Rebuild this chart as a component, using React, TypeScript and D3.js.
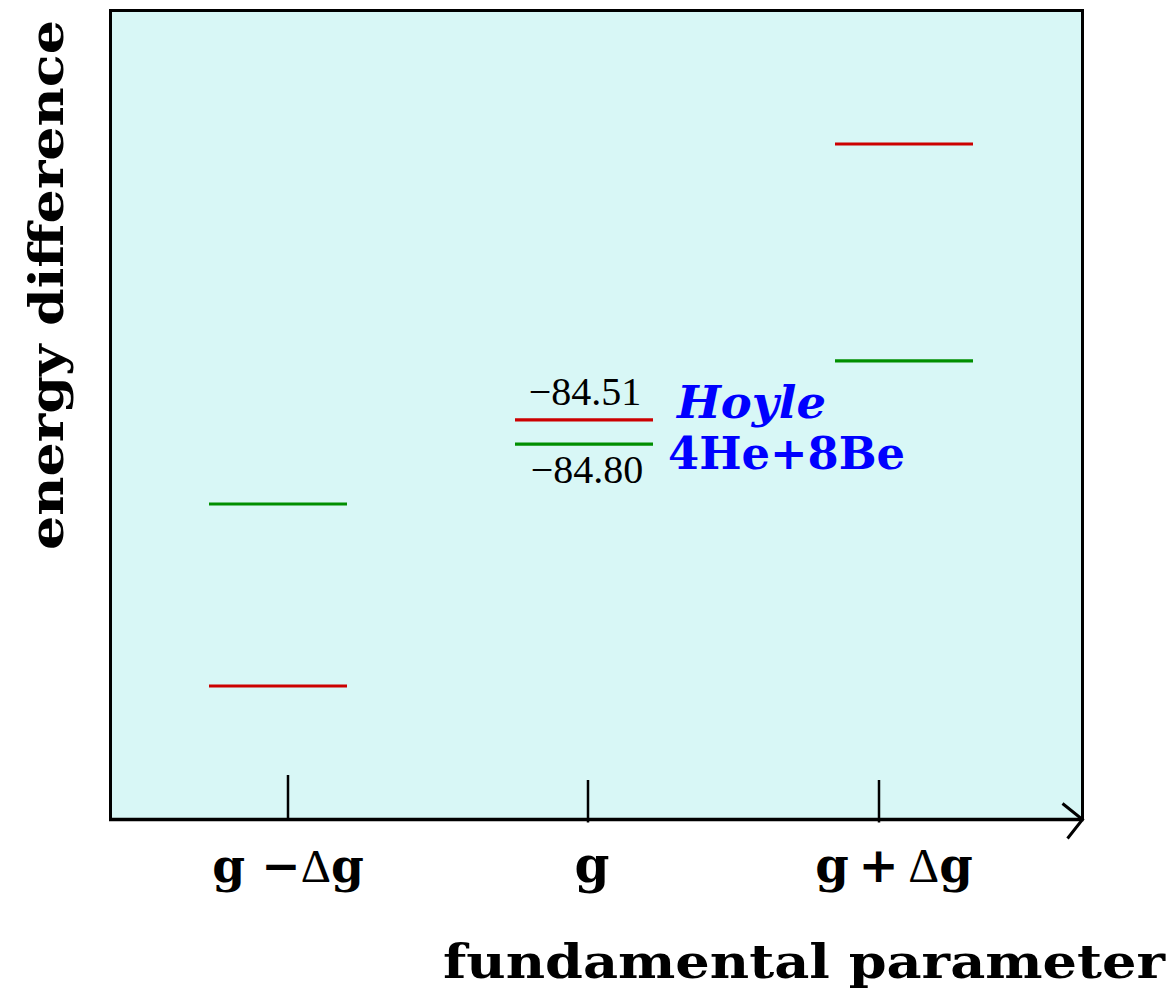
import React from "react";
import * as d3 from "d3";

// ---- data ----
const categories = ["g-dg", "g", "g+dg"];
const tickLabels = [
  [{ t: "g ", b: true }, { t: "\u2212", b: true }, { t: "\u0394", b: false }, { t: "g", b: true }],
  [{ t: "g", b: true }],
  [{ t: "g\u2009", b: true }, { t: "+\u2009", b: true }, { t: "\u0394", b: false }, { t: "g", b: true }],
];
// energy levels in arbitrary units (schematic)
const hoyleLevels = [16.5, 49.4, 83.5];
const beLevels = [39.0, 46.4, 56.7];
const midValueLabels = ["\u221284.51", "\u221284.80"];
const seriesNames = ["Hoyle", "4He+8Be"];
const xTitle = "fundamental parameter";
const yTitle = "energy difference";

const W = 1173;
const H = 1000;
const frame = { left: 110.5, top: 10.5, right: 1082.5, bottom: 819.5 };
const BG = "#d8f7f6";
const RED = "#cc0000";
const GREEN = "#008f00";
const BLUE = "#0000ff";
const SERIF_BOLD = "'DejaVu Serif', 'Liberation Serif', serif";
const TIMES = "'Liberation Serif', 'Times New Roman', serif";

export default function App() {
  const y = d3.scaleLinear().domain([0, 100]).range([frame.bottom, frame.top]);
  const xTick = d3.scaleOrdinal<string, number>().domain(categories).range([288, 588, 879]);
  const xLevel = d3.scaleOrdinal<string, number>().domain(categories).range([278, 584, 904]);
  const half = 69;
  const labelShift = [0, 4, 15];
  const labelSize = [47, 50, 48];

  const levelRows = categories.flatMap((c, i) => [
    { c, v: hoyleLevels[i], color: RED },
    { c, v: beLevels[i], color: GREEN },
  ]);

  const midX = xLevel("g");
  return (
    <svg
      width={W}
      height={H}
      style={{ position: "absolute", left: 0, top: 0, background: "#fff" }}
    >
      <rect
        x={frame.left}
        y={frame.top}
        width={frame.right - frame.left}
        height={frame.bottom - frame.top}
        fill={BG}
        stroke="none"
      />
      {/* frame: left, top, right */}
      <path
        d={`M${frame.left},${frame.bottom} L${frame.left},${frame.top} L${frame.right},${frame.top} L${frame.right},${frame.bottom}`}
        fill="none"
        stroke="#000"
        strokeWidth={3}
      />
      {/* bottom axis with arrow */}
      <line x1={frame.left - 1.5} y1={frame.bottom} x2={frame.right + 1} y2={frame.bottom} stroke="#000" strokeWidth={3.5} />
      <path
        d={`M${frame.right - 20},${frame.bottom - 16} L${frame.right},${frame.bottom} L${frame.right - 15},${frame.bottom + 19}`}
        fill="none"
        stroke="#000"
        strokeWidth={3}
      />
      {/* ticks */}
      {categories.map((c, i) => (
        <line
          key={c}
          x1={xTick(c)}
          x2={xTick(c)}
          y1={frame.bottom + (i === 0 ? 0 : 3)}
          y2={i === 0 ? 775 : 780}
          stroke="#000"
          strokeWidth={2.5}
        />
      ))}
      {/* tick labels */}
      {categories.map((c, i) => (
        <text
          key={c}
          x={xTick(c) + labelShift[i]}
          y={882}
          textAnchor="middle"
          fontFamily={SERIF_BOLD}
          fontSize={labelSize[i]}
          fill="#000"
        >
          {tickLabels[i].map((p, j) => (
            <tspan key={j} fontWeight={p.b ? "bold" : "normal"} fontFamily={p.b ? SERIF_BOLD : TIMES}>
              {p.t}
            </tspan>
          ))}
        </text>
      ))}
      {/* energy levels */}
      {levelRows.map((d, i) => (
        <line
          key={i}
          x1={xLevel(d.c) - half}
          x2={xLevel(d.c) + half}
          y1={y(d.v)}
          y2={y(d.v)}
          stroke={d.color}
          strokeWidth={3.2}
        />
      ))}
      {/* value labels */}
      <text x={midX + 1} y={y(hoyleLevels[1]) - 15} textAnchor="middle" fontFamily={TIMES} fontSize={40} fill="#000">
        {midValueLabels[0]}
      </text>
      <text x={midX + 3} y={y(beLevels[1]) + 39} textAnchor="middle" fontFamily={TIMES} fontSize={40} fill="#000">
        {midValueLabels[1]}
      </text>
      {/* series labels */}
      <text
        x={677}
        y={418}
        fontFamily={SERIF_BOLD}
        fontWeight="bold"
        fontStyle="italic"
        fontSize={45}
        fill={BLUE}
        textLength={149}
        lengthAdjust="spacingAndGlyphs"
      >
        {seriesNames[0]}
      </text>
      <text
        x={668}
        y={469}
        fontFamily={SERIF_BOLD}
        fontWeight="bold"
        fontSize={45}
        fill={BLUE}
        textLength={237}
        lengthAdjust="spacingAndGlyphs"
      >
        {seriesNames[1]}
      </text>
      {/* axis titles */}
      <text
        x={443}
        y={978}
        fontFamily={SERIF_BOLD}
        fontWeight="bold"
        fontSize={46}
        fill="#000"
        textLength={722}
        lengthAdjust="spacingAndGlyphs"
      >
        {xTitle}
      </text>
      <text
        transform="translate(63,550) rotate(-90)"
        x={0}
        y={0}
        fontFamily={SERIF_BOLD}
        fontWeight="bold"
        fontSize={46}
        fill="#000"
        textLength={530}
        lengthAdjust="spacingAndGlyphs"
      >
        {yTitle}
      </text>
    </svg>
  );
}
